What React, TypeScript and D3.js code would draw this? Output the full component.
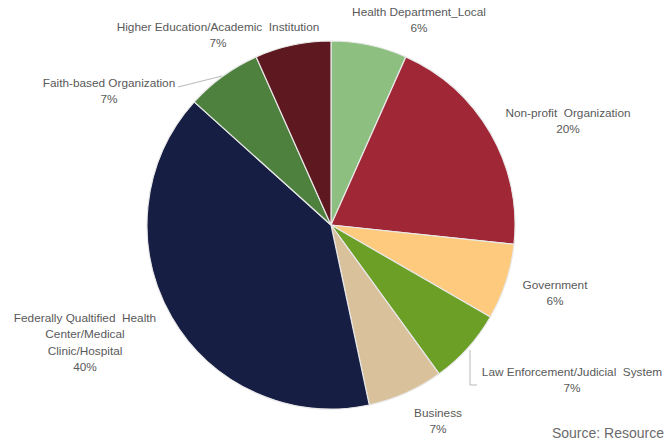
import React from "react";
import * as d3 from "d3";

const categories = [
  "Health Department_Local",
  "Non-profit  Organization",
  "Government",
  "Law Enforcement/Judicial  System",
  "Business",
  "Federally Qualtified  Health Center/Medical Clinic/Hospital",
  "Faith-based Organization",
  "Higher Education/Academic  Institution",
];
// slice sizes (share of organizations)
const values = [1, 3, 1, 1, 1, 6, 1, 1];
const percentLabels = ["6%", "20%", "6%", "7%", "7%", "40%", "7%", "7%"];

const colors = [
  "#8cbf80",
  "#a02735",
  "#fdca7e",
  "#6c9f26",
  "#d9c19c",
  "#171e44",
  "#4e813d",
  "#5e1820",
];

// label layout (text lines, center x, first line center y)
const labelLines = [
  ["Health Department_Local"],
  ["Non-profit  Organization"],
  ["Government"],
  ["Law Enforcement/Judicial  System"],
  ["Business"],
  ["Federally Qualtified  Health", "Center/Medical", "Clinic/Hospital"],
  ["Faith-based Organization"],
  ["Higher Education/Academic  Institution"],
];
const labelPos: [number, number][] = [
  [419, 12],
  [568, 113],
  [555, 285],
  [572, 372],
  [438, 413],
  [85, 318],
  [109, 83],
  [218, 27],
];

const W = 665;
const H = 440;
const cx = 331;
const cy = 225;
const R = 184;

export default function App() {
  const pie = d3.pie<number>().sort(null).value((d) => d);
  const arcs = pie(values);
  const arcGen = d3.arc<d3.PieArcDatum<number>>().innerRadius(0).outerRadius(R);
  const font = "'Liberation Sans', Arial, sans-serif";
  return (
    <svg
      width={W}
      height={H}
      style={{ position: "absolute", left: 0, top: 0, background: "#fff" }}
    >
      <g transform={`translate(${cx},${cy})`}>
        {arcs.map((a, i) => (
          <path
            key={categories[i]}
            d={arcGen(a) || ""}
            fill={colors[i]}
            stroke="#e8e8e8"
            strokeWidth={1.2}
          />
        ))}
      </g>
      {/* leader lines */}
      <path d="M178,87 L222,76" stroke="#a6a6a6" fill="none" strokeWidth={0.8} />
      <path d="M470,350 L470,385 L477,385" stroke="#a6a6a6" fill="none" strokeWidth={0.8} />
      {labelLines.map((lines, i) => {
        const [x, y] = labelPos[i];
        const all = [...lines, percentLabels[i]];
        return (
          <text
            key={"l" + i}
            textAnchor="middle"
            fontFamily={font}
            fontSize={11.8}
            fill="#595959"
          >
            {all.map((t, j) => (
              <tspan key={j} x={x} y={y + 4 + j * 16.3} style={{ whiteSpace: "pre" }}>
                {t}
              </tspan>
            ))}
          </text>
        );
      })}
      <text x={664} y={438} textAnchor="end" fontFamily={font} fontSize={14} fill="#6b6b6b">
        Source: Resource
      </text>
    </svg>
  );
}
